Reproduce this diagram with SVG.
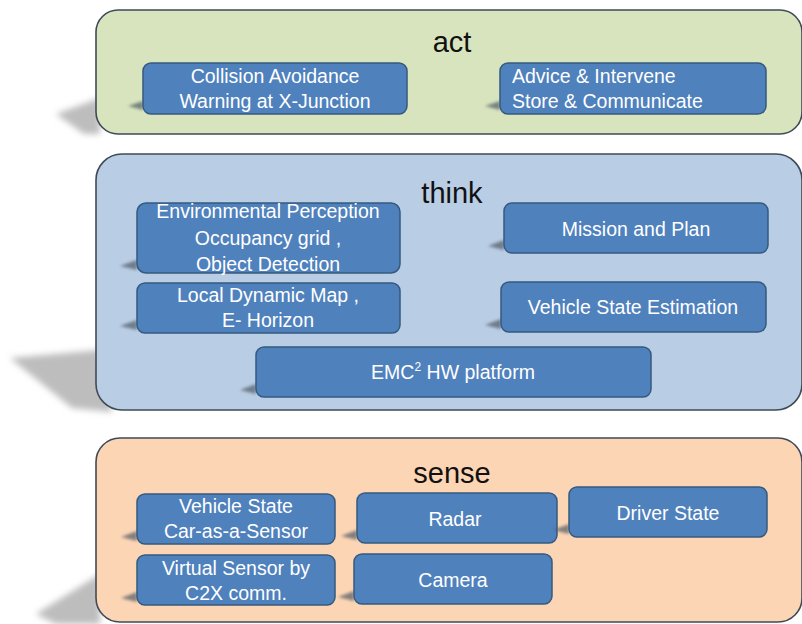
<svg xmlns="http://www.w3.org/2000/svg" width="802" height="624" viewBox="0 0 802 624">
  <defs>
    <filter id="soft" x="-50%" y="-50%" width="200%" height="200%">
      <feGaussianBlur stdDeviation="3"/>
    </filter>
    <filter id="softSmall" x="-50%" y="-50%" width="200%" height="200%">
      <feGaussianBlur stdDeviation="1.5"/>
    </filter>
  </defs>
  <style>
    .panel { stroke: #3f4a57; stroke-width: 1.6; }
    .act { fill: #d7e4bd; }
    .think { fill: #b9cde5; }
    .sense { fill: #fcd5b5; }
    .box { fill: #4f81bd; stroke: #35597f; stroke-width: 1.5; }
    .title { font-family: "Liberation Sans", Arial, sans-serif; font-size: 29px; fill: #111; text-anchor: middle; }
    .lbl { font-family: "Liberation Sans", Arial, sans-serif; font-size: 19.5px; fill: #ffffff; text-anchor: middle; }
    .lblL { font-family: "Liberation Sans", Arial, sans-serif; font-size: 19.5px; fill: #ffffff; }
    .shadow { fill: #bdbdbd; filter: url(#soft); }
    .bshadow { fill: #505a66; filter: url(#softSmall); opacity: 0.7; }
  </style>

  <rect width="802" height="624" fill="#ffffff"/>

  <!-- panel drop shadows -->
  <polygon class="shadow" points="56,114 100,98 100,134 84,134"/>
  <polygon class="shadow" points="10,358 100,350 112,412 72,408"/>
  <polygon class="shadow" points="36,614 100,574 100,624 56,624"/>

  <!-- act layer -->
  <g id="act">
    <rect class="panel act" x="96" y="10" width="706" height="124" rx="22"/>
    <text class="title" x="452" y="52">act</text>
  </g>
  <g id="collision">
    <path class="bshadow" d="M128,106 L143,101 L143,110 Z"/>
    <rect class="box" x="143" y="63" width="264" height="51" rx="8"/>
    <text class="lbl" x="275" y="83">Collision Avoidance</text>
    <text class="lbl" x="275" y="108">Warning at X-Junction</text>
  </g>
  <g id="advice">
    <path class="bshadow" d="M485,106 L500,101 L500,110 Z"/>
    <rect class="box" x="500" y="63" width="266" height="51" rx="8"/>
    <text class="lblL" x="512" y="83">Advice &amp; Intervene</text>
    <text class="lblL" x="512" y="108">Store &amp; Communicate</text>
  </g>

  <!-- think layer -->
  <g id="think">
    <rect class="panel think" x="96" y="154" width="706" height="256" rx="26"/>
    <text class="title" x="452" y="203">think</text>
  </g>
  <g id="environment">
    <path class="bshadow" d="M120,266 L137,260 L137,270 Z"/>
    <rect class="box" x="137" y="203" width="263" height="70" rx="9"/>
    <text class="lbl" x="268" y="218">Environmental Perception</text>
    <text class="lbl" x="268" y="245">Occupancy grid ,</text>
    <text class="lbl" x="268" y="271">Object Detection</text>
  </g>
  <g id="mission">
    <path class="bshadow" d="M488,246 L504,240 L504,250 Z"/>
    <rect class="box" x="504" y="203" width="264" height="50" rx="8"/>
    <text class="lbl" x="636" y="236">Mission and Plan</text>
  </g>
  <g id="ldm">
    <path class="bshadow" d="M120,326 L137,320 L137,330 Z"/>
    <rect class="box" x="137" y="283" width="263" height="50" rx="8"/>
    <text class="lbl" x="268" y="302">Local Dynamic Map ,</text>
    <text class="lbl" x="268" y="327">E- Horizon</text>
  </g>
  <g id="vse">
    <path class="bshadow" d="M485,325 L501,319 L501,329 Z"/>
    <rect class="box" x="501" y="282" width="265" height="50" rx="8"/>
    <text class="lbl" x="633" y="314">Vehicle State Estimation</text>
  </g>
  <g id="emc">
    <path class="bshadow" d="M240,390 L256,384 L256,394 Z"/>
    <rect class="box" x="256" y="347" width="395" height="50" rx="8"/>
    <text class="lbl" x="453" y="379">EMC<tspan font-size="12" dy="-8">2</tspan><tspan dy="8"> HW platform</tspan></text>
  </g>

  <!-- sense layer -->
  <g id="sense">
    <rect class="panel sense" x="96" y="438" width="706" height="184" rx="24"/>
    <text class="title" x="452" y="483">sense</text>
  </g>
  <g id="vehicle-state">
    <path class="bshadow" d="M121,537 L137,531 L137,541 Z"/>
    <rect class="box" x="137" y="494" width="198" height="50" rx="8"/>
    <text class="lbl" x="236" y="513">Vehicle State</text>
    <text class="lbl" x="236" y="538">Car-as-a-Sensor</text>
  </g>
  <g id="radar">
    <path class="bshadow" d="M341,536 L357,530 L357,540 Z"/>
    <rect class="box" x="357" y="493" width="200" height="50" rx="8"/>
    <text class="lbl" x="455" y="526">Radar</text>
  </g>
  <g id="driver-state">
    <path class="bshadow" d="M553,530 L569,524 L569,534 Z"/>
    <rect class="box" x="569" y="487" width="198" height="50" rx="8"/>
    <text class="lbl" x="668" y="520">Driver State</text>
  </g>
  <g id="virtual-sensor">
    <path class="bshadow" d="M121,598 L137,592 L137,602 Z"/>
    <rect class="box" x="137" y="555" width="198" height="50" rx="8"/>
    <text class="lbl" x="236" y="575">Virtual Sensor by</text>
    <text class="lbl" x="236" y="600">C2X comm.</text>
  </g>
  <g id="camera">
    <path class="bshadow" d="M338,597 L354,591 L354,601 Z"/>
    <rect class="box" x="354" y="554" width="198" height="50" rx="8"/>
    <text class="lbl" x="453" y="587">Camera</text>
  </g>

  <!-- no connectors in this layered view -->
  <g id="connectors"/>
</svg>
